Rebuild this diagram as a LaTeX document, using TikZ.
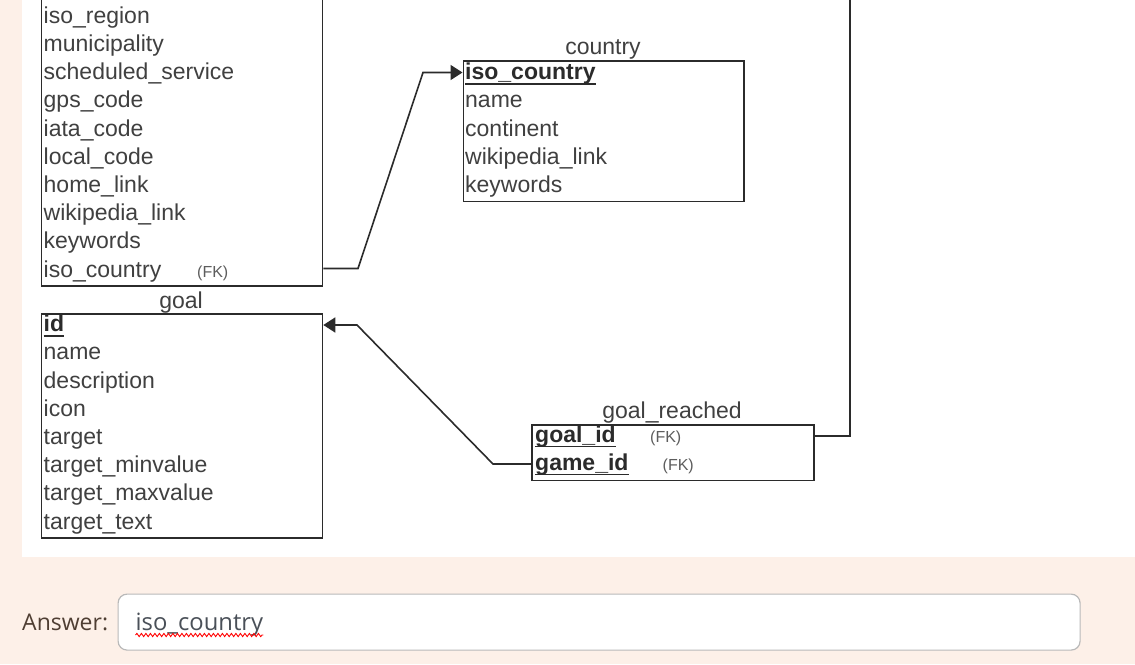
\documentclass[tikz,border=0pt]{standalone}
\usepackage{fontspec}
\setmainfont{Liberation Sans}
\newfontfamily\uifont{Open Sans}
\usetikzlibrary{arrows.meta,decorations.pathmorphing}
\definecolor{pagebg}{HTML}{FDF0E8}
\definecolor{inktext}{HTML}{404040}
\definecolor{inkline}{HTML}{2B2B2B}
\definecolor{labeltext}{HTML}{4F3E33}
\definecolor{fieldtext}{HTML}{4A5058}
\definecolor{fieldborder}{HTML}{B9B9B9}

\begin{document}
\begin{tikzpicture}[x=1pt,y=-1pt,
  tablebox/.style={draw=inkline, line width=1.8pt, fill=white, rectangle, inner sep=0pt, anchor=north west},
  field/.style={anchor=base west, inner sep=0pt, text=inktext, font=\fontsize{23}{28}\selectfont},
  keyfield/.style={anchor=base west, inner sep=0pt, text=inkline, font=\fontsize{23}{28}\selectfont\bfseries},
  fknote/.style={anchor=base west, inner sep=0pt, text=inktext!85, font=\fontsize{16}{18}\selectfont},
  tabletitle/.style={anchor=base, inner sep=0pt, text=inktext, font=\fontsize{23}{28}\selectfont},
  keyline/.style={draw=inkline, line width=1.8pt},
  link/.style={draw=inkline, line width=1.6pt},
  tip/.style={-{Triangle[length=12pt,width=15pt]}},
]
\useasboundingbox (0,0) rectangle (1135,664);
\clip (0,0) rectangle (1135,664);

% page and content panel
\fill[pagebg] (0,0) rectangle (1135,664);
\fill[white] (22,0) rectangle (1135,557);

% ---- airport table (continues above the top edge)
\node[tablebox, minimum width=281pt, minimum height=305pt] (airport) at (40.5,-20) {};
\foreach \t [count=\i from 0] in {iso\_region, municipality, scheduled\_service, gps\_code,
    iata\_code, local\_code, home\_link, wikipedia\_link, keywords, iso\_country}
  \node[field] (air-\i) at (43.5, 23.3+28.2*\i) {\t};
\node[fknote] (air-fk) at (197,277) {(FK)};

% ---- country table
\node[tabletitle] (country-title) at (603,54) {country};
\node[tablebox, minimum width=280.5pt, minimum height=140.5pt] (country) at (462.5,60) {};
\node[keyfield] (cty-0) at (465,79.7) {iso\_country};
\draw[keyline] ([yshift=-4pt]cty-0.base west) -- ([yshift=-4pt]cty-0.base east);
\foreach \t [count=\i from 1] in {name, continent, wikipedia\_link, keywords}
  \node[field] (cty-\i) at (465, 79.7+28.2*\i) {\t};

% ---- goal table
\node[tabletitle] (goal-title) at (181,308.3) {goal};
\node[tablebox, minimum width=281pt, minimum height=224.6pt] (goal) at (40.5,312.7) {};
\node[keyfield] (goal-0) at (43.5,331.7) {id};
\draw[keyline] ([yshift=-4.5pt]goal-0.base west) -- ([yshift=-4.5pt]goal-0.base east);
\foreach \t [count=\i from 1] in {name, description, icon, target,
    target\_minvalue, target\_maxvalue, target\_text}
  \node[field] (goal-\i) at (43.5, 331.7+28.2*\i) {\t};

% ---- goal_reached table
\node[tabletitle] (reached-title) at (672,418.5) {goal\_reached};
\node[tablebox, minimum width=282pt, minimum height=55.5pt] (reached) at (531,424) {};
\node[keyfield] (rch-0) at (535,442) {goal\_id};
\draw[keyline] ([yshift=-4.5pt]rch-0.base west) -- ([yshift=-4.5pt]rch-0.base east);
\node[fknote] (rch-fk0) at (650,442) {(FK)};
\node[keyfield] (rch-1) at (535,470) {game\_id};
\draw[keyline] ([yshift=-4.5pt]rch-1.base west) -- ([yshift=-4.5pt]rch-1.base east);
\node[fknote] (rch-fk1) at (662.5,470) {(FK)};

% ---- relationships
\draw[link,tip] (airport.east |- 0,268.5) -- (358,268.5) -- (423,72.5) -- (country.west |- 0,72.5);
\draw[link,tip] (reached.west |- 0,464) -- (493,464) -- (357,325) -- (goal.east |- 0,325);
\draw[link] (reached.east |- 0,436) -- (850,436) -- (850,-10);

% ---- answer field
\node[anchor=base west, inner sep=0pt, text=labeltext, font=\uifont\fontsize{23}{27}\selectfont]
  (anslabel) at (22,630) {Answer:};
\node[draw=fieldborder, line width=1.2pt, fill=white, rounded corners=9pt, inner sep=0pt,
  minimum width=962pt, minimum height=56pt, anchor=north west] (ansbox) at (117.5,593.5) {};
\node[anchor=base west, inner sep=0pt, text=fieldtext, font=\uifont\fontsize{23.8}{27}\selectfont]
  (anstext) at (135.5,630) {iso\_country};
\draw[red, line width=0.9pt, decorate, decoration={snake, amplitude=1.6pt, segment length=4.5pt}]
  ([yshift=-5pt]anstext.base west) -- ([yshift=-5pt]anstext.base east);
\end{tikzpicture}
\end{document}
